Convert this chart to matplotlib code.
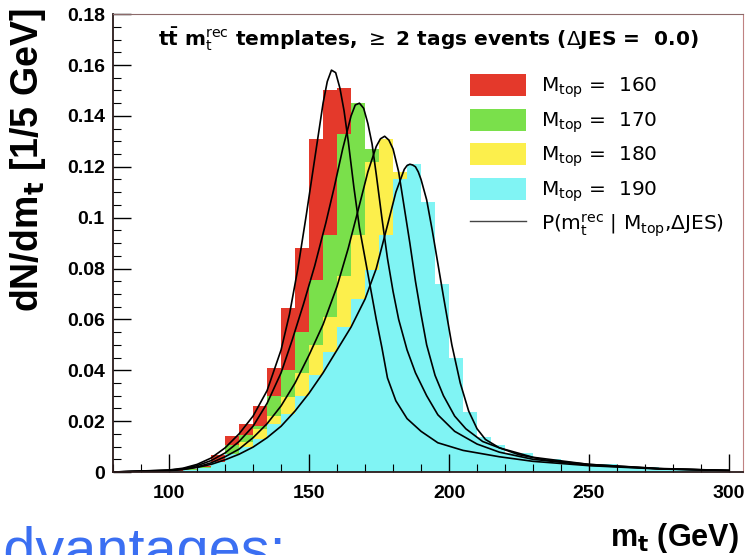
import matplotlib
matplotlib.use("Agg")
import matplotlib.pyplot as plt
from matplotlib.patches import Patch
from matplotlib.lines import Line2D
from matplotlib.ticker import MultipleLocator, FuncFormatter

plt.rcParams['font.family'] = ['Liberation Sans', 'DejaVu Sans']
plt.rcParams['mathtext.fontset'] = 'custom'
plt.rcParams['mathtext.rm'] = 'DejaVu Sans'
plt.rcParams['mathtext.it'] = 'DejaVu Sans'
plt.rcParams['mathtext.bf'] = 'DejaVu Sans:bold'

# bin edges of the templates (5 GeV bins)
edges = list(range(80, 305, 5))

# template heights, one value per bin (80..300)
h160 = [0.0002, 0.0003, 0.0003, 0.0005, 0.0008, 0.0012, 0.0025, 0.0067, 0.014, 0.019,
        0.026, 0.041, 0.0646, 0.088, 0.131, 0.150, 0.151, 0.113, 0.080, 0.050,
        0.032, 0.022, 0.016, 0.012, 0.0095, 0.0080, 0.0068, 0.0058, 0.0050, 0.0045,
        0.0040, 0.0035, 0.0030, 0.0027, 0.0024, 0.0020, 0.0018, 0.0015, 0.0013, 0.0011,
        0.0010, 0.0008, 0.0007, 0.0006]
h170 = [0.0002, 0.0002, 0.0003, 0.0004, 0.0006, 0.0010, 0.0020, 0.0040, 0.0105, 0.0145,
        0.018, 0.030, 0.040, 0.055, 0.0756, 0.093, 0.133, 0.145, 0.127, 0.100,
        0.068, 0.047, 0.034, 0.025, 0.018, 0.014, 0.011, 0.0088, 0.0072, 0.0060,
        0.0050, 0.0043, 0.0037, 0.0032, 0.0027, 0.0023, 0.0020, 0.0017, 0.0014, 0.0012,
        0.0010, 0.0009, 0.0008, 0.0007]
h180 = [0.0001, 0.0002, 0.0002, 0.0003, 0.0005, 0.0009, 0.0017, 0.0035, 0.0070, 0.012,
        0.017, 0.022, 0.0295, 0.039, 0.050, 0.061, 0.077, 0.093, 0.122, 0.131,
        0.118, 0.090, 0.058, 0.040, 0.028, 0.020, 0.013, 0.0100, 0.0072, 0.0065,
        0.0050, 0.0045, 0.0034, 0.0031, 0.0028, 0.0026, 0.0021, 0.0019, 0.0016, 0.0013,
        0.0011, 0.0010, 0.0008, 0.0007]
h190 = [0.0001, 0.0001, 0.0002, 0.0003, 0.0004, 0.0008, 0.0015, 0.0040, 0.0070, 0.010,
        0.013, 0.019, 0.023, 0.030, 0.038, 0.047, 0.057, 0.068, 0.0795, 0.093,
        0.115, 0.121, 0.106, 0.074, 0.045, 0.0236, 0.0138, 0.0106, 0.0075, 0.0075,
        0.0052, 0.0050, 0.0035, 0.0033, 0.0030, 0.0030, 0.0022, 0.0020, 0.0018, 0.0016,
        0.0012, 0.0011, 0.0010, 0.0009]

# fitted probability curves
x160 = [80, 100, 105, 110, 115, 120, 125, 130, 135, 140, 143, 146, 149, 152, 155, 156.5,
        158, 159.5, 161, 162.5, 164, 166, 168, 170, 172, 174, 176, 178, 181, 185, 190,
        196, 205, 218, 230, 250, 275, 300]
y160 = [0.0, 0.0008, 0.0015, 0.003, 0.0055, 0.0095, 0.015, 0.022, 0.032, 0.048, 0.062,
        0.080, 0.101, 0.123, 0.145, 0.1535, 0.158, 0.157, 0.151, 0.142, 0.130, 0.112,
        0.096, 0.084, 0.072, 0.060, 0.049, 0.037, 0.028, 0.021, 0.016, 0.0115, 0.0085,
        0.006, 0.0042, 0.0025, 0.0012, 0.0006]
x170 = [80, 100, 105, 110, 115, 120, 125, 130, 135, 140, 144, 148, 152, 156, 159, 162,
        165, 166.5, 168, 169.5, 171, 172.5, 174, 176, 178, 180, 182, 185, 188, 192, 196,
        202, 210, 218, 230, 250, 275, 300]
y170 = [0.0, 0.0007, 0.0013, 0.0025, 0.0045, 0.0075, 0.012, 0.018, 0.027, 0.039, 0.052,
        0.066, 0.081, 0.098, 0.112, 0.127, 0.140, 0.1443, 0.145, 0.143, 0.137, 0.129,
        0.117, 0.100, 0.084, 0.071, 0.060, 0.048, 0.039, 0.030, 0.0225, 0.016, 0.011,
        0.0078, 0.005, 0.0027, 0.0013, 0.0006]
x180 = [80, 100, 105, 110, 115, 120, 125, 130, 135, 140, 145, 150, 155, 160, 164, 168, 171,
        174, 175.5, 177, 178.5, 180, 182, 184, 186, 188, 190, 192, 195, 198, 202, 206,
        212, 218, 230, 250, 275, 300]
y180 = [0.0, 0.0006, 0.0011, 0.002, 0.0036, 0.006, 0.009, 0.0135, 0.019, 0.026, 0.035,
        0.046, 0.058, 0.073, 0.088, 0.105, 0.118, 0.128, 0.131, 0.132, 0.1305, 0.127,
        0.118, 0.104, 0.090, 0.075, 0.062, 0.050, 0.038, 0.030, 0.022, 0.017, 0.012,
        0.0095, 0.0058, 0.003, 0.0014, 0.0006]
x190 = [80, 100, 105, 110, 115, 120, 125, 130, 135, 140, 145, 150, 155, 160, 165, 170, 174,
        178, 181, 184, 185, 186, 187, 188, 189, 190, 192, 194, 196, 198, 201, 204, 207,
        210, 213, 218, 225, 235, 250, 275, 300]
y190 = [0.0, 0.0005, 0.001, 0.0018, 0.003, 0.0048, 0.007, 0.0098, 0.0135, 0.018, 0.024,
        0.031, 0.039, 0.048, 0.057, 0.068, 0.080, 0.097, 0.110, 0.119, 0.1205, 0.121,
        0.1207, 0.120, 0.118, 0.115, 0.107, 0.095, 0.082, 0.069, 0.050, 0.035, 0.024,
        0.017, 0.0128, 0.0095, 0.0068, 0.0046, 0.003, 0.0013, 0.0006]

masses = ['160', '170', '180', '190']
colors = ['#e4392b', '#7ae04b', '#fcef4c', '#80f4f4']

fig = plt.figure(figsize=(7.49, 5.55), dpi=100)
ax = fig.add_axes([0.151, 0.1495, 0.841, 0.825])

for h, c in zip([h160, h170, h180, h190], colors):
    ax.stairs(h, edges, fill=True, color=c, linewidth=0)

for xs, ys in [(x160, y160), (x170, y170), (x180, y180), (x190, y190)]:
    ax.plot(xs, ys, color='black', lw=1.2)

ax.set_xlim(80, 305)
ax.set_ylim(0, 0.18)

ax.xaxis.set_major_locator(MultipleLocator(50))
ax.xaxis.set_minor_locator(MultipleLocator(10))
ax.yaxis.set_major_locator(MultipleLocator(0.02))
ax.yaxis.set_minor_locator(MultipleLocator(0.005))
ax.yaxis.set_major_formatter(FuncFormatter(lambda v, p: '%g' % round(v, 3)))
ax.tick_params(which='both', direction='in', top=False, right=False)
ax.tick_params(which='major', length=13, width=1.0, labelsize=14, pad=9)
ax.tick_params(which='minor', length=6, width=0.8)
ax.tick_params(axis='y', which='major', pad=6)
for lab in ax.get_xticklabels() + ax.get_yticklabels():
    lab.set_fontweight('bold')

ax.spines['left'].set_color('#2a1a1a')
ax.spines['bottom'].set_color('#2a1a1a')
ax.spines['left'].set_linewidth(1.3)
ax.spines['bottom'].set_linewidth(1.3)
ax.spines['top'].set_color('#8c6a6a')
ax.spines['right'].set_color('#c08282')

ax.text(0.072, 0.945, r'$\mathbf{t\bar{t}}$ m$_{t}^{rec}$ templates, $\geq$ 2 tags events ($\Delta$JES =  0.0)',
        transform=ax.transAxes, fontsize=14.5, fontweight='bold', family='DejaVu Sans',
        va='center', ha='left')

handles = [Patch(facecolor=c, edgecolor='none') for c in colors]
handles.append(Line2D([], [], color='#444444', lw=1.0))
labels = ['M$_{top}$ =  ' + m for m in masses]
labels.append(r'P(m$_{t}^{rec}$ | M$_{top}$,$\Delta$JES)')
ax.legend(handles, labels, loc='upper left', bbox_to_anchor=(0.567, 0.869),
          frameon=False, prop={'family': 'DejaVu Sans', 'size': 14.5},
          handlelength=2.75, handleheight=1.3, handletextpad=0.75,
          labelspacing=0.42, borderaxespad=0, borderpad=0)

fig.text(0.037, 0.712, r'dN/dm$_{\mathbf{t}}$ [1/5 GeV]', rotation=90, fontsize=27,
         fontweight='bold', ha='center', va='center')
fig.text(0.9, 0.016, r'm$_{\mathbf{t}}$ (GeV)', fontsize=22, fontweight='bold',
         ha='center', va='baseline')
fig.text(-0.045, -0.0234, 'Advantages:', fontsize=41.5, color='#3b6ff2',
         ha='left', va='baseline')

fig.savefig('out.png', dpi=100)
